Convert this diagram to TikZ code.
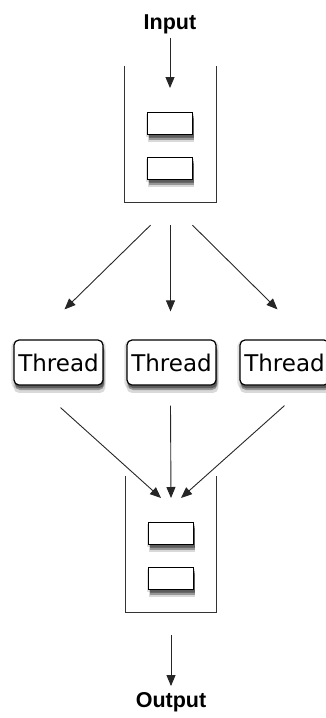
\documentclass[tikz,border=0pt]{standalone}
\usepackage{fontspec}
\setsansfont{DejaVu Sans}
\newfontfamily\labelfont{Liberation Sans}
\usetikzlibrary{positioning, arrows.meta, shadows, calc}

\begin{document}
\begin{tikzpicture}[
    x=1pt, y=-1pt,
    every node/.style={inner sep=0pt},
    io/.style={font=\labelfont\bfseries\fontsize{21.5}{21.5}\selectfont},
    queue/.style={minimum width=91pt, minimum height=136pt},
    soft/.style={
      drop shadow={shadow xshift=0pt, shadow yshift=-2pt, shadow scale=1.06, fill=black, opacity=0.12},
      drop shadow={shadow xshift=1pt, shadow yshift=-3pt, fill=black, opacity=0.3},
      drop shadow={shadow xshift=1pt, shadow yshift=-5pt, fill=black, opacity=0.3},
      drop shadow={shadow xshift=1pt, shadow yshift=-7pt, shadow scale=1.03, fill=black, opacity=0.15}},
    item/.style={draw, line width=1.3pt, fill=white, minimum width=45pt, minimum height=22pt, soft},
    worker/.style={draw, line width=1.2pt, fill=white, rounded corners=5pt,
      minimum width=89pt, minimum height=45pt, font=\sffamily\fontsize{23}{23}\selectfont, soft},
    wall/.style={line width=1.2pt, black!80},
    arrow/.style={-{Triangle[length=11pt, width=9pt]}, line width=0.9pt, black!85}
  ]
  \useasboundingbox (0,0) rectangle (325,718);

  % input side
  \node[io] (in) at (170,24) {Input};
  \node[queue] (q1) at (170.5,134) {};
  \draw[wall] (q1.north west) |- (q1.south) -| (q1.north east);
  \node[item] (q1a) at (170,123.5) {};
  \node[item] (q1b) at (170,168.5) {};
  \coordinate (q1in) at (170,88);

  % workers
  \node[worker] (t1) at (58.5,362.5) {Thread};
  \node[worker] (t2) at (171.5,362.5) {Thread};
  \node[worker] (t3) at (284.5,362.5) {Thread};

  % output side
  \node[queue] (q2) at (171,544) {};
  \draw[wall] (q2.north west) |- (q2.south) -| (q2.north east);
  \node[item] (q2a) at (171,533.5) {};
  \node[item] (q2b) at (171,578.5) {};
  \node[io] (out) at (171,702) {Output};

  \draw[arrow] ([yshift=-4pt]in.south) -- (q1in);
  \draw[arrow] ($(q1.south)+(-20,23)$) -- ($(t1.north)+(6,-30)$);
  \draw[arrow] ($(q1.south)+(0,23)$) -- ($(t2.north)+(-1,-28)$);
  \draw[arrow] ($(q1.south)+(22,23)$) -- ($(t3.north)+(-7,-30)$);
  \draw[arrow] ($(t1.south)+(2,22)$) -- (161,498);
  \draw[arrow] ($(t2.south)+(-1,20)$) -- (171,498);
  \draw[arrow] ($(t3.south)+(0,20)$) -- (181,498);
  \draw[arrow] ($(q2.south)+(0,23)$) -- ([yshift=6pt]out.north);
\end{tikzpicture}
\end{document}
